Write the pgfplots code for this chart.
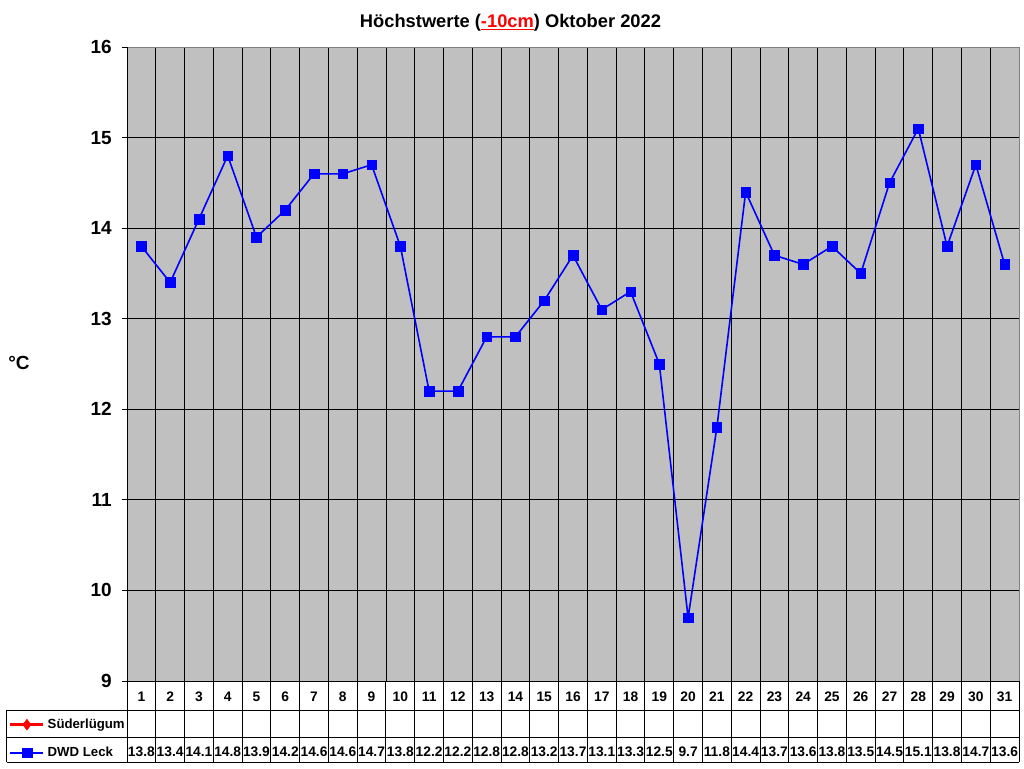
\documentclass[border=0pt]{standalone}
\usepackage{pgfplots}
\pgfplotsset{compat=1.18}
\usepackage{pgfplotstable}
\usepackage{fontspec}
\setmainfont{Liberation Sans}
\definecolor{plotgray}{HTML}{C0C0C0}
\definecolor{bordgray}{HTML}{808080}
\definecolor{dwdblue}{HTML}{0000FF}
\definecolor{sred}{HTML}{FF0000}

\pgfplotstableread{
day val
1 13.8
2 13.4
3 14.1
4 14.8
5 13.9
6 14.2
7 14.6
8 14.6
9 14.7
10 13.8
11 12.2
12 12.2
13 12.8
14 12.8
15 13.2
16 13.7
17 13.1
18 13.3
19 12.5
20 9.7
21 11.8
22 14.4
23 13.7
24 13.6
25 13.8
26 13.5
27 14.5
28 15.1
29 13.8
30 14.7
31 13.6
}\datatable

\begin{document}
\begin{tikzpicture}
\path[use as bounding box] (-127pt,-87pt) rectangle (897pt,681pt);
\begin{axis}[
 name=ax, at={(0,0)}, anchor=south west,
 scale only axis, width=892pt, height=634pt,
 xmin=0.5, xmax=31.5, ymin=9, ymax=16,
 xtick={1,...,31}, ytick={9,...,16},
 minor xtick={1.5,2.5,...,30.5},
 xminorgrids=true, ymajorgrids=true, xmajorgrids=false,
 minor x grid style={black, line width=0.9pt},
 major y grid style={black, line width=0.9pt},
 xtick style={draw=none}, minor x tick style={draw=none},
 ytick pos=left, ytick align=outside, xtick align=inside, major tick length=5pt,
 ytick style={black, line width=0.9pt},
 axis line style={draw=none},
 axis background/.style={fill=plotgray},
 clip=false,
 /pgf/number format/assume math mode=true,
 yticklabel style={font=\bfseries\fontsize{19}{21}\selectfont, anchor=east, inner sep=0pt, xshift=-10pt},
 xticklabel style={font=\bfseries\fontsize{13.8}{15}\selectfont, anchor=center, inner sep=0pt, yshift=-15.5pt},
 extra x ticks={1,...,31},
 extra x tick labels={13.8,13.4,14.1,14.8,13.9,14.2,14.6,14.6,14.7,13.8,12.2,12.2,12.8,12.8,13.2,13.7,13.1,13.3,12.5,9.7,11.8,14.4,13.7,13.6,13.8,13.5,14.5,15.1,13.8,14.7,13.6},
 extra x tick style={grid=none, major tick style={draw=none}, tick label style={yshift=-55.5pt}},
 ylabel={°C},
 ylabel style={rotate=-90, at={(axis description cs:-0.1211,0.5016)}, anchor=center, font=\bfseries\fontsize{19}{21}\selectfont},
 legend style={at={(axis description cs:0,0)}, anchor=north west, xshift=-118pt, yshift=-36pt, draw=none, fill=none, inner sep=0pt, row sep=13pt, font=\bfseries\fontsize{13.2}{15}\selectfont, cells={anchor=west}, column sep=1pt},
 legend image code/.code={
   \draw[#1, mark=none] (0pt,0pt) -- (33pt,0pt);
   \draw[#1] plot coordinates {(16.5pt,0pt)};
 },
]
\addlegendimage{sred, line width=2.5pt, mark=diamond*, mark size=5.5pt, mark options={solid, fill=sred, line width=0.4pt}}
\addlegendentry{Süderlügum}
\addplot[dwdblue, line width=1.6pt, mark=square*, mark size=4.8pt, mark options={solid, fill=dwdblue, line width=0.4pt}] table[x=day,y=val]{\datatable};
\addlegendentry{DWD Leck}
\end{axis}
\draw[bordgray, line width=1pt] (ax.north west) -- (ax.north east) -- (ax.south east);
\draw[black, line width=1pt] (ax.north west) -- (ax.south west) -- (ax.south east);
\draw[black, line width=1pt] (-120pt,-29pt) -- (892pt,-29pt);
\draw[black, line width=1pt] (-120pt,-56pt) -- (892pt,-56pt);
\draw[black, line width=1pt] (-120pt,-81pt) -- (892pt,-81pt);
\draw[black, line width=1pt] (-120pt,-29pt) -- (-120pt,-81pt);
\draw[black, line width=1pt] (0pt,0pt) -- (0pt,-81pt);
\draw[black, line width=1pt] (892pt,0pt) -- (892pt,-81pt);
\foreach \k in {1,...,30} {
  \draw[black, line width=1pt] ({\k*28.7742pt},0pt) -- ({\k*28.7742pt},-81pt);
}
\node[font=\bfseries\fontsize{18.3}{21}\selectfont, anchor=base] at (383.5pt,653.7pt) {Höchstwerte (\textcolor{sred}{\underline{-10cm}}) Oktober 2022};
\end{tikzpicture}
\end{document}
